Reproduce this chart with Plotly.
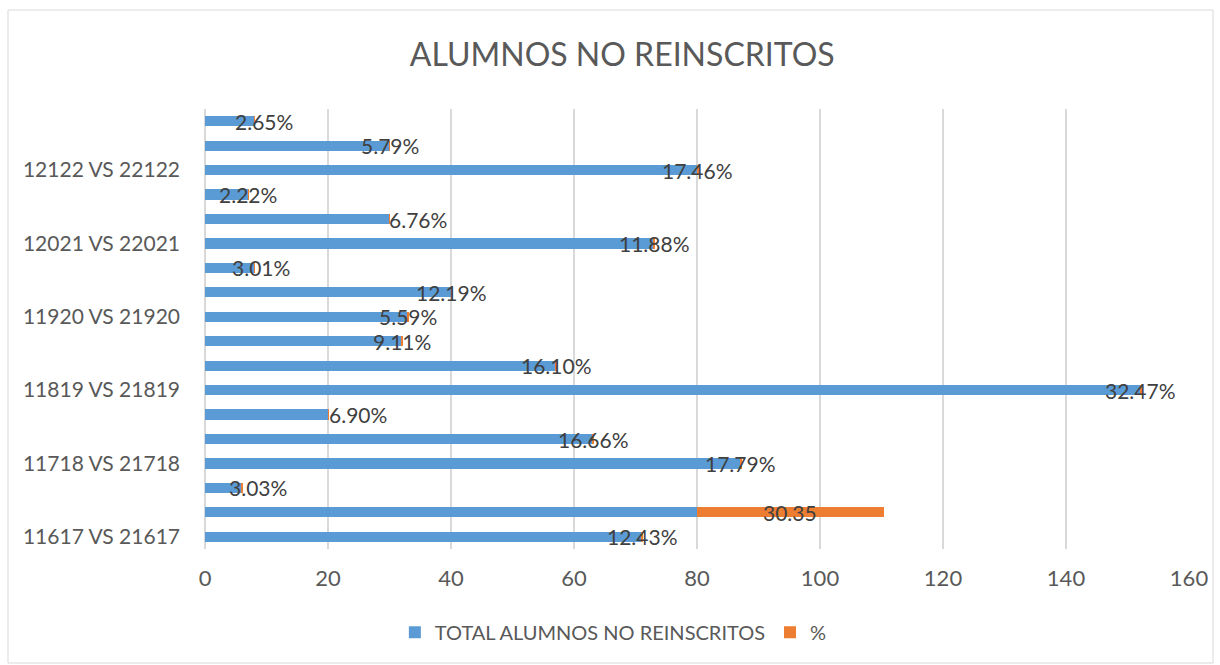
import plotly.graph_objects as go

# Six enrolment periods, three rows each (only the first row of a group is labelled)
group_labels = ["11617 VS 21617", "11718 VS 21718", "11819 VS 21819",
                "11920 VS 21920", "12021 VS 22021", "12122 VS 22122"]
rows_per_group = 3

# Students not re-enrolled, bottom row first
total_no_reinscritos = [71, 80, 6, 87, 63, 20, 152, 57, 32, 33, 40, 8, 73, 30, 7, 80, 30, 8]
# Share series (fractions shown as %, one raw value)
pct = [0.1243, 30.35, 0.0303, 0.1779, 0.1666, 0.0690, 0.3247, 0.1610, 0.0911,
       0.0559, 0.1219, 0.0301, 0.1188, 0.0676, 0.0222, 0.1746, 0.0579, 0.0265]

# Horizontal nudges (px) for labels that sit past short bars
label_nudge = [0, 0, 16, 0, 1, 30, 0, 0, 0, 0, 0, 7, 0, 28, 0, 0, 0, 10]

BLUE = "#5B9BD5"
ORANGE = "#ED7D31"
GRID = "#D9D9D9"
TXT = "#595959"
LBL = "#404040"
FONT = "Lato"

rows = list(range(len(total_no_reinscritos)))
tickvals = [i * rows_per_group for i in range(len(group_labels))]


def fmt(v):
    return f"{v * 100:.2f}%" if v < 1 else f"{v:.2f}"


fig = go.Figure()
fig.add_trace(go.Bar(
    y=rows, x=total_no_reinscritos, orientation="h",
    name="TOTAL ALUMNOS NO REINSCRITOS", marker=dict(color=BLUE, line_width=0),
    width=0.42, hoverinfo="x",
))
fig.add_trace(go.Bar(
    y=rows, x=pct, orientation="h",
    name="%", marker=dict(color=ORANGE, line_width=0),
    width=0.42, hoverinfo="x",
))

annotations = []
for r, base, v, dx in zip(rows, total_no_reinscritos, pct, label_nudge):
    annotations.append(dict(
        x=base + v / 2, y=r, xref="x", yref="y", text=fmt(v),
        showarrow=False, xanchor="center", yanchor="middle", xshift=dx, yshift=0,
        font=dict(family=FONT, size=21, color=LBL),
    ))

fig.update_layout(
    barmode="stack",
    width=1220, height=665,
    margin=dict(l=205, r=31, t=109, b=116),
    paper_bgcolor="white", plot_bgcolor="white",
    title=dict(text="ALUMNOS NO REINSCRITOS", x=0.51, xanchor="center",
               y=0.917, yanchor="middle", xref="container", yref="container",
               font=dict(family=FONT, size=32, color=TXT)),
    xaxis=dict(range=[0, 160], dtick=20, showgrid=True, gridcolor=GRID, gridwidth=1.5,
               zeroline=True, zerolinecolor=GRID, zerolinewidth=1.5,
               showline=False, ticks="", ticklabelstandoff=14,
               tickfont=dict(family=FONT, size=22, color=TXT), fixedrange=True),
    yaxis=dict(range=[-0.5, len(rows) - 0.5], tickvals=tickvals, ticktext=group_labels,
               showgrid=False, zeroline=False, showline=False, ticks="",
               ticklabelstandoff=24,
               tickfont=dict(family=FONT, size=21, color=TXT), fixedrange=True),
    legend=dict(orientation="h", x=0.415, xanchor="center", y=-0.189, yanchor="middle",
                font=dict(family=FONT, size=20, color=TXT), traceorder="normal",
                itemwidth=30),
    annotations=annotations,
    shapes=[dict(type="rect", xref="paper", yref="paper",
                 x0=(8 - 205) / 984, x1=(1213 - 205) / 984,
                 y0=(549 - 663) / 440, y1=(549 - 10) / 440,
                 line=dict(color=GRID, width=1), fillcolor="rgba(0,0,0,0)", layer="below")],
    showlegend=True,
)

fig.write_html("out.html")
